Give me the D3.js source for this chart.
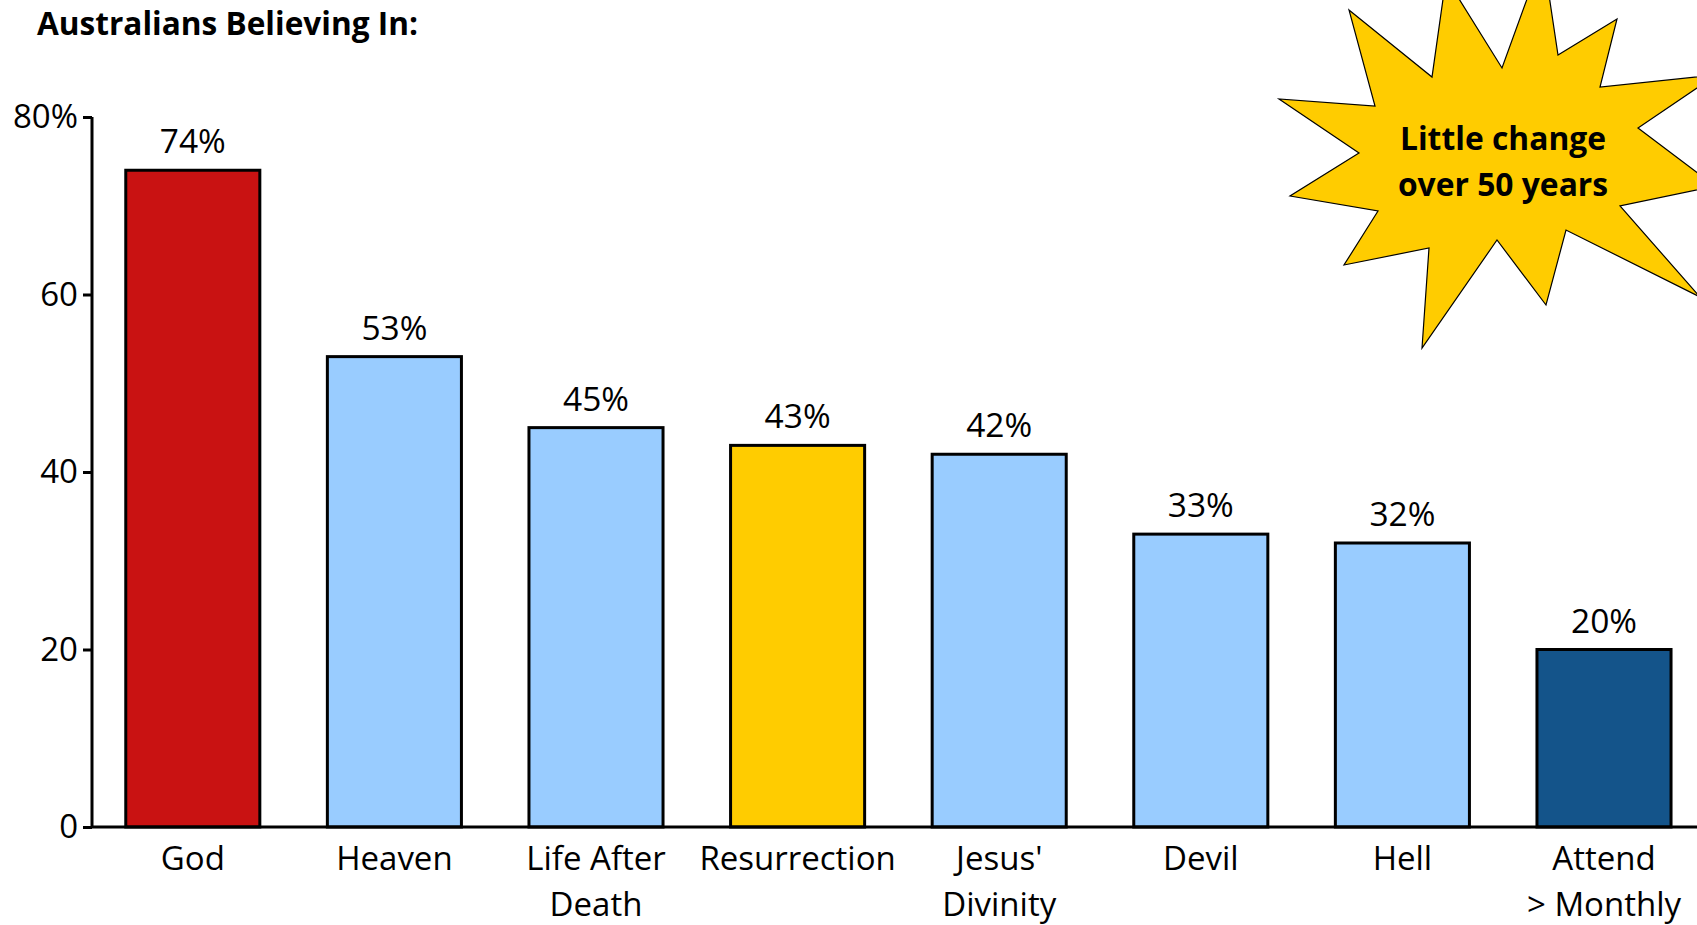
<!DOCTYPE html>
<html>
<head>
<meta charset="utf-8">
<script src="https://cdn.jsdelivr.net/npm/d3@7"></script>
<style>
  body { margin: 0; background: #fff; }
  svg { display: block; font-family: "Open Sans", sans-serif; }
  .axis path, .axis line { stroke: #000; stroke-width: 3; }
  .axis text { font-family: "Open Sans", sans-serif; font-size: 33px; fill: #000; }
</style>
</head>
<body>
<svg width="1697" height="925"></svg>
<script>
// data
var categories = ['God', 'Heaven', 'Life After\nDeath', 'Resurrection', "Jesus'\nDivinity", 'Devil', 'Hell', 'Attend\n> Monthly'];
var values = [74, 53, 45, 43, 42, 33, 32, 20];
var barColors = ['#C91212', '#99CCFF', '#99CCFF', '#FFCC00', '#99CCFF', '#99CCFF', '#99CCFF', '#14548A'];
var yTicks = [0, 20, 40, 60, 80];
var title = 'Australians Believing In:';
var burstText = ['Little change', 'over 50 years'];
// starburst outline, tips and notches around the callout
var burstPoints = [
  [1349, 10], [1432, 77], [1446, -22], [1502, 68], [1543, -45], [1558, 55],
  [1617, 19], [1600, 87], [1716, 75], [1638, 128], [1715, 186], [1620, 206],
  [1700, 297], [1566, 230], [1546, 305], [1497, 240], [1422, 348], [1429, 248],
  [1344, 265], [1378, 211], [1290, 196], [1359, 153], [1279, 99], [1375, 106]
];

var svg = d3.select('svg');
var plotLeft = 92, plotBottom = 827, plotTop = 117;

var x = d3.scaleBand()
  .domain(categories)
  .range([plotLeft, plotLeft + 8 * 201.6])
  .paddingInner(0.335)
  .paddingOuter(0.1675);

var y = d3.scaleLinear().domain([0, 80]).range([plotBottom, plotTop]);

// title
svg.append('text')
  .attr('x', 37)
  .attr('y', 35)
  .style('font-size', '31.6px')
  .style('font-weight', 'bold')
  .text(title);

// bars
svg.selectAll('rect.bar')
  .data(values)
  .enter().append('rect')
  .attr('class', 'bar')
  .attr('x', function (d, i) { return x(categories[i]); })
  .attr('y', function (d) { return y(d); })
  .attr('width', x.bandwidth())
  .attr('height', function (d) { return plotBottom - y(d); })
  .style('fill', function (d, i) { return barColors[i]; })
  .style('stroke', '#000')
  .style('stroke-width', 3);

// value labels
svg.selectAll('text.value')
  .data(values)
  .enter().append('text')
  .attr('class', 'value')
  .attr('x', function (d, i) { return x(categories[i]) + x.bandwidth() / 2; })
  .attr('y', function (d) { return y(d) - 17; })
  .attr('text-anchor', 'middle')
  .style('font-size', '33.5px')
  .text(function (d) { return d + '%'; });

// y axis
var yAxis = d3.axisLeft(y)
  .tickValues(yTicks)
  .tickSize(9)
  .tickPadding(5)
  .tickFormat(function (d) { return d === 80 ? d + '%' : d; });

var yg = svg.append('g')
  .attr('class', 'axis')
  .attr('transform', 'translate(' + plotLeft + ',0)')
  .call(yAxis);
yg.select('.domain').attr('d', 'M0,' + plotTop + 'V' + plotBottom);

// x axis
var xAxis = d3.axisBottom(x).tickSize(0).tickFormat('');
var xg = svg.append('g')
  .attr('class', 'axis')
  .attr('transform', 'translate(0,' + plotBottom + ')')
  .call(xAxis);
xg.select('.domain').attr('d', 'M' + plotLeft + ',0H1697');

xg.selectAll('.tick text').remove();
xg.selectAll('.tick').append('text')
  .attr('text-anchor', 'middle')
  .attr('y', 43)
  .each(function (d) {
    var t = d3.select(this);
    d.split('\n').forEach(function (line, k) {
      t.append('tspan').attr('x', 0).attr('dy', k === 0 ? 0 : 46).text(line);
    });
  });

// starburst callout
svg.append('polygon')
  .attr('points', burstPoints.map(function (p) { return p.join(','); }).join(' '))
  .style('fill', '#FFCC00')
  .style('stroke', '#000')
  .style('stroke-width', 1.2);

svg.selectAll('text.burst')
  .data(burstText)
  .enter().append('text')
  .attr('class', 'burst')
  .attr('x', 1503)
  .attr('y', function (d, i) { return 150 + i * 46; })
  .attr('text-anchor', 'middle')
  .style('font-size', '31.8px')
  .style('font-weight', 'bold')
  .text(function (d) { return d; });
</script>
</body>
</html>
